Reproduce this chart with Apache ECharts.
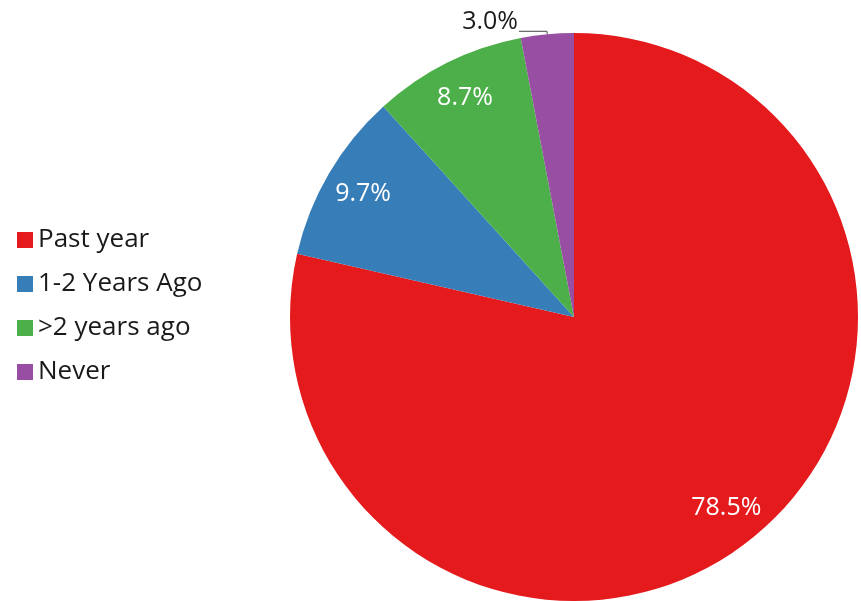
<!DOCTYPE html>
<html>
<head>
<meta charset="utf-8">
<script src="https://cdn.jsdelivr.net/npm/echarts@6/dist/echarts.min.js"></script>
<style>
  html, body { margin: 0; padding: 0; background: #fff; }
  #chart { width: 861px; height: 601px; }
</style>
</head>
<body>
<div id="chart"></div>
<script>
const categories = ['Past year', '1-2 Years Ago', '>2 years ago', 'Never']
const shares = [78.5, 9.7, 8.7, 3.0]
const colors = ['#e41a1c', '#377eb8', '#4daf4a', '#984ea3']

const fontFamily = '"Open Sans", "Noto Sans", sans-serif'
const center = [574, 317]
const radius = 284

const pieData = categories.map((name, i) => ({
  name,
  value: shares[i],
  itemStyle: { color: colors[i] }
}))

// transparent ring over the pie, only used to place the labels further out
const labelData = categories.map((name, i) => {
  const outside = i === categories.length - 1
  return {
    name,
    value: shares[i],
    itemStyle: { color: 'rgba(0,0,0,0)' },
    label: outside
      ? { position: 'outside', color: '#1a1a1a', distanceToLabelLine: 1 }
      : { position: 'inside', color: '#fff' },
    labelLine: outside
      ? { show: true, length: 3, length2: 28, lineStyle: { color: '#444', width: 1 } }
      : { show: false }
  }
})

const chart = echarts.init(document.getElementById('chart'), null, { renderer: 'canvas' })

chart.setOption({
  animation: false,
  legend: {
    orient: 'vertical',
    left: 12,
    top: 222,
    icon: 'rect',
    itemWidth: 16,
    itemHeight: 16,
    itemGap: 18,
    selectedMode: false,
    data: categories,
    textStyle: {
      fontFamily,
      fontSize: 26,
      color: '#1a1a1a',
      padding: [0, 0, 0, 0]
    }
  },
  series: [
    {
      type: 'pie',
      center,
      radius,
      startAngle: 90,
      clockwise: true,
      silent: true,
      label: { show: false },
      labelLine: { show: false },
      itemStyle: { borderWidth: 0 },
      data: pieData
    },
    {
      type: 'pie',
      center,
      radius: [radius * 0.7, radius],
      startAngle: 90,
      clockwise: true,
      silent: true,
      legendHoverLink: false,
      label: {
        show: true,
        formatter: p => p.value.toFixed(1) + '%',
        fontFamily,
        fontSize: 25
      },
      labelLayout: p => (p.dataIndex === categories.length - 1 ? { dy: -9 } : {}),
      data: labelData
    }
  ]
})
</script>
</body>
</html>
